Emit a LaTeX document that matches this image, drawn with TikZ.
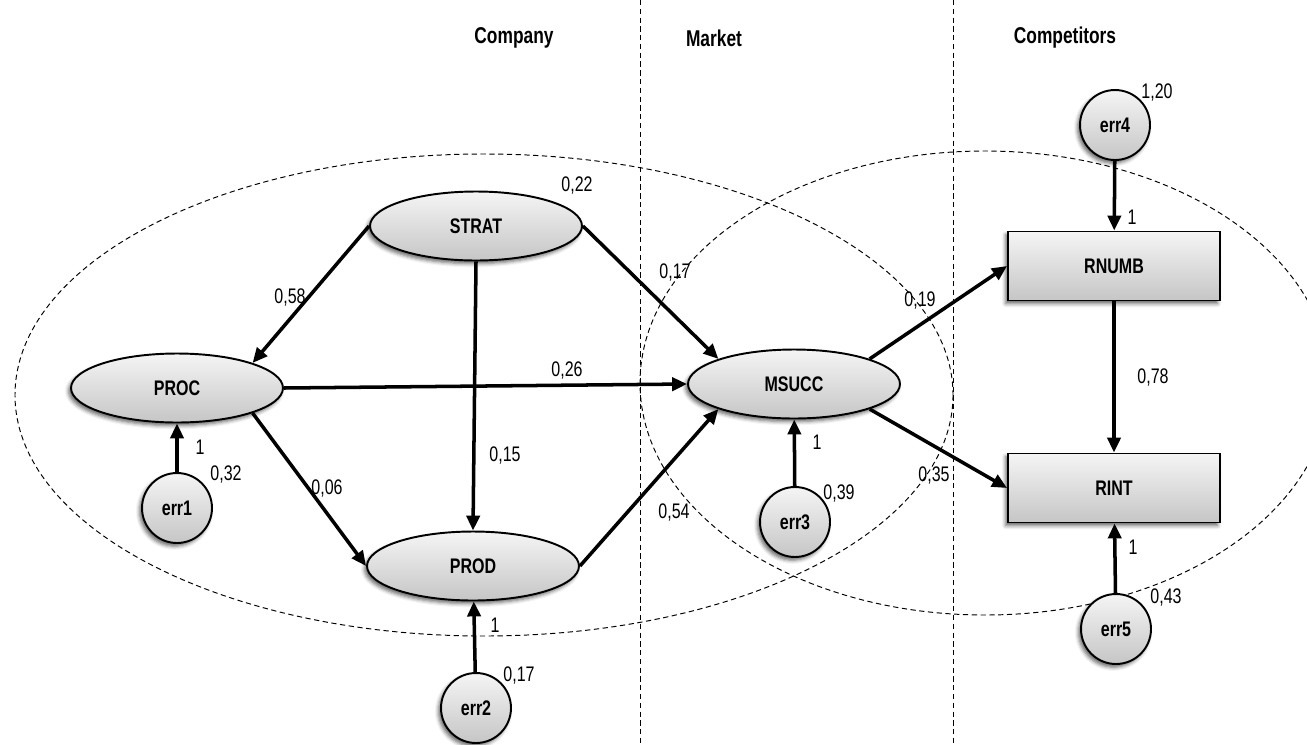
\documentclass[tikz,border=0pt]{standalone}
\usepackage{fontspec}
\setmainfont{Liberation Sans}[FakeStretch=0.76]
\usetikzlibrary{arrows.meta, shapes.geometric, shadows.blur}
\tikzset{
  latent/.style={
    ellipse, draw=black, line width=1.1pt,
    top color=gray!8, bottom color=gray!45,
    blur shadow={shadow xshift=-1.4pt, shadow yshift=-1.8pt, shadow opacity=60},
    minimum width=4.24cm, minimum height=1.38cm,
    font=\fontsize{12}{14}\selectfont\bfseries
  },
  observed/.style={
    rectangle, draw=black, line width=1.1pt,
    top color=gray!8, bottom color=gray!45,
    blur shadow={shadow xshift=-1.4pt, shadow yshift=-1.8pt, shadow opacity=60},
    minimum width=4.24cm, minimum height=1.38cm,
    font=\fontsize{12}{14}\selectfont\bfseries
  },
  errnode/.style={
    circle, draw=black, line width=1.1pt,
    top color=gray!8, bottom color=gray!45,
    blur shadow={shadow xshift=-1.4pt, shadow yshift=-1.8pt, shadow opacity=60},
    minimum size=1.4cm, inner sep=0pt,
    font=\fontsize{12}{14}\selectfont\bfseries
  },
  effect/.style={-{Triangle[length=8.5pt, width=7.5pt]}, line width=2pt},
  coef/.style={font=\fontsize{12}{14}\selectfont, inner sep=0pt},
  heading/.style={font=\fontsize{13}{15}\selectfont\bfseries},
  region/.style={line width=0.55pt, dash pattern=on 3pt off 2pt}
}

\begin{document}
\begin{tikzpicture}[x=0.02cm, y=-0.02cm]
  \useasboundingbox (0,0) rectangle (1307,744);
  \clip (0,0) rectangle (1307,744);

  % regions
  \draw[region] (640,0) -- (640,744);
  \draw[region] (953,0) -- (953,744);
  \draw[region] (484,395) ellipse [x radius=469, y radius=241];
  \draw[region] (985,383) ellipse [x radius=345, y radius=232];

  \node[heading] (hcompany) at (514,38) {Company};
  \node[heading] (hmarket) at (714,38) {Market};
  \node[heading] (hcomp) at (1065,38) {Competitors};

  % latent variables
  \node[latent] (STRAT) at (476,226) {STRAT};
  \node[latent] (PROC) at (177,388) {PROC};
  \node[latent] (PROD) at (473,566) {PROD};
  \node[latent] (MSUCC) at (794,384) {MSUCC};

  % observed variables
  \node[observed] (RNUMB) at (1114,266) {RNUMB};
  \node[observed] (RINT) at (1114,488) {RINT};

  % error terms
  \node[errnode] (err1) at (177,508) {err1};
  \node[errnode] (err2) at (476,708) {err2};
  \node[errnode] (err3) at (795,522) {err3};
  \node[errnode] (err4) at (1115,125) {err4};
  \node[errnode] (err5) at (1116,629) {err5};

  % paths
  \draw[effect] (STRAT.west) -- (PROC.north east);
  \draw[effect] (STRAT.south) -- (PROD.north);
  \draw[effect] (STRAT.east) -- (MSUCC.north west);
  \draw[effect] (PROC.east) -- (MSUCC.west);
  \draw[effect] (PROC.south east) -- (PROD.west);
  \draw[effect] (PROD.east) -- (MSUCC.south west);
  \draw[effect] (MSUCC.north east) -- (RNUMB.west);
  \draw[effect] (MSUCC.south east) -- (RINT.west);
  \draw[effect] (RNUMB) -- (RINT);
  \draw[effect] (err1) -- (PROC);
  \draw[effect] (err2) -- (PROD);
  \draw[effect] (err3) -- (MSUCC);
  \draw[effect] (err4) -- (RNUMB);
  \draw[effect] (err5) -- (RINT);

  % estimates
  \node[coef] (vstrat) at (577,185) {0,22};
  \node[coef] (c58) at (290,297) {0,58};
  \node[coef] (c17) at (675,272) {0,17};
  \node[coef] (c19) at (920,300) {0,19};
  \node[coef] (c26) at (567,370) {0,26};
  \node[coef] (c15) at (505,455) {0,15};
  \node[coef] (c06) at (327,488) {0,06};
  \node[coef] (c54) at (674,512) {0,54};
  \node[coef] (c35) at (934,475) {0,35};
  \node[coef] (c78) at (1153,377) {0,78};
  \node[coef] (l1) at (200,447) {1};
  \node[coef] (v1) at (226,474) {0,32};
  \node[coef] (l2) at (495,625) {1};
  \node[coef] (v2) at (519,675) {0,17};
  \node[coef] (l3) at (817,442) {1};
  \node[coef] (v3) at (839,493) {0,39};
  \node[coef] (l4) at (1132,217) {1};
  \node[coef] (v4) at (1157,92) {1,20};
  \node[coef] (l5) at (1133,547) {1};
  \node[coef] (v5) at (1166,597) {0,43};
\end{tikzpicture}
\end{document}
